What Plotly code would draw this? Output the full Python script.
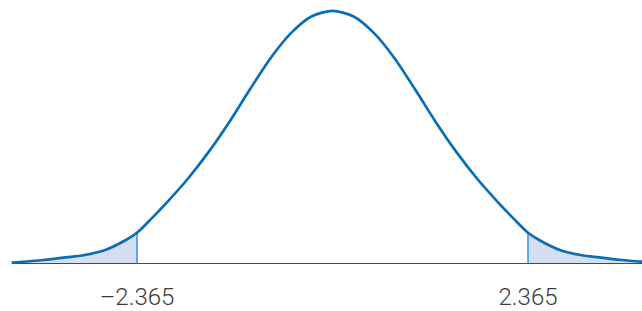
import plotly.graph_objects as go

# t values and density heights
t_vals = [-3.88, -3.5, -3.25, -3.0, -2.75, -2.5, -2.365, -2.2, -2.0, -1.75, -1.5, -1.25, -1.0, -0.75, -0.5, -0.25, 0.0,
          0.25, 0.5, 0.75, 1.0, 1.25, 1.5, 1.75, 2.0, 2.2, 2.365, 2.5, 2.75, 3.0, 3.25, 3.5, 3.9]
density = [0.002, 0.006, 0.0095, 0.0135, 0.021, 0.036, 0.047, 0.067, 0.093, 0.128, 0.168, 0.213, 0.262, 0.309, 0.347, 0.372, 0.380,
           0.372, 0.347, 0.309, 0.262, 0.213, 0.168, 0.128, 0.093, 0.067, 0.047, 0.036, 0.021, 0.0135, 0.0095, 0.006, 0.002]
critical = [-2.365, 2.365]
tick_labels = ["\u20132.365", "2.365"]

curve_color = "#0a6db5"
fill_color = "#d5def0"
cut_color = "#3b8fd0"

fig = go.Figure()

# left tail fill
lx = [t for t in t_vals if t <= critical[0]]
ly = [d for t, d in zip(t_vals, density) if t <= critical[0]]
fig.add_trace(go.Scatter(x=lx, y=ly, mode="lines", line=dict(width=0, shape="spline"),
                         fill="tozeroy", fillcolor=fill_color, hoverinfo="skip"))
# right tail fill
rx = [t for t in t_vals if t >= critical[1]]
ry = [d for t, d in zip(t_vals, density) if t >= critical[1]]
fig.add_trace(go.Scatter(x=rx, y=ry, mode="lines", line=dict(width=0, shape="spline"),
                         fill="tozeroy", fillcolor=fill_color, hoverinfo="skip"))

# cut lines
for c in critical:
    h = density[t_vals.index(c)]
    fig.add_trace(go.Scatter(x=[c, c], y=[0, h], mode="lines",
                             line=dict(color=cut_color, width=1.5), hoverinfo="skip"))

# baseline
fig.add_trace(go.Scatter(x=[t_vals[0], t_vals[-1]], y=[0, 0], mode="lines",
                         line=dict(color="#4a4a4a", width=2.2), hoverinfo="skip"))

# curve
fig.add_trace(go.Scatter(x=t_vals, y=density, mode="lines",
                         line=dict(color=curve_color, width=2.7, shape="spline", smoothing=0.8)))

fig.update_layout(
    width=642, height=311,
    margin=dict(l=0, r=0, t=0, b=45),
    paper_bgcolor="white", plot_bgcolor="white",
    showlegend=False,
    xaxis=dict(range=[-4.0224, 3.744], showgrid=False, zeroline=False, showline=False,
               tickmode="array", tickvals=critical, ticktext=tick_labels,
               ticks="", ticklabelstandoff=16,
               tickfont=dict(family="Roboto, Liberation Sans, sans-serif", size=24,
                             weight=300, color="#3a3a3a")),
    yaxis=dict(range=[0, 0.3964], showgrid=False, zeroline=False, showline=False,
               showticklabels=False),
)

fig.write_html("out.html", config={"displayModeBar": False},
               post_script="document.body.style.margin='0px';document.body.style.padding='0px';")
